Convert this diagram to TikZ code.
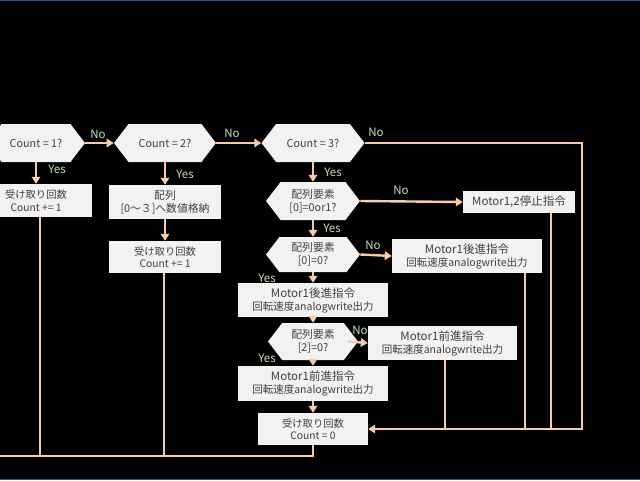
\documentclass[tikz,border=0pt]{standalone}
\usepackage{fontspec}
\setmainfont{Noto Sans CJK JP}
\usetikzlibrary{shapes.symbols,arrows.meta}

\definecolor{flowline}{RGB}{248,203,173}
\definecolor{boxfill}{RGB}{242,242,242}
\definecolor{boxtext}{RGB}{64,64,64}
\definecolor{lblgreen}{RGB}{197,224,180}
\definecolor{frameblue}{RGB}{47,85,151}

\newcommand{\mtitle}[1]{{\fontsize{11.5}{14}\selectfont #1}}

\tikzset{
  hexq/.style={shape=signal, signal to=west and east, signal pointer angle=105,
    fill=boxfill, text=boxtext, inner sep=0pt, align=center,
    font=\fontsize{10.8}{13}\selectfont},
  procbox/.style={rectangle, fill=boxfill, text=boxtext, inner sep=0pt, align=center,
    font=\fontsize{10.3}{12.5}\selectfont},
  motorbox/.style={procbox, minimum width=150pt, minimum height=34pt,
    font=\fontsize{10.5}{13}\selectfont},
  flow/.style={draw=flowline, line width=2.4pt, -{Triangle[length=7pt,width=8.5pt]}},
  joinline/.style={draw=flowline, line width=2.4pt},
  lbl/.style={text=lblgreen, inner sep=0pt, font=\fontsize{11.5}{13}\selectfont},
}

\begin{document}
\begin{tikzpicture}[x=1pt, y=-1pt]
  \fill[black] (0,0) rectangle (640,480);
  \clip (0,0) rectangle (640,480);
  \draw[frameblue, line width=2pt] (0,0) -- (640,0);
  \draw[frameblue, line width=1.5pt] (0,479.5) -- (640,479.5);

  % count checks
  \node[hexq, minimum width=98pt, minimum height=38pt] (c1) at (36,143) {Count = 1?};
  \node[hexq, minimum width=102pt, minimum height=38pt] (c2) at (165,143) {Count = 2?};
  \node[hexq, minimum width=103pt, minimum height=38pt] (c3) at (313,143) {Count = 3?};

  % count 1 and 2
  \node[procbox, minimum width=112pt, minimum height=33pt] (b1) at (36,200.5) {受け取り回数\\Count += 1};
  \node[procbox, minimum width=112pt, minimum height=34pt, font=\fontsize{10.8}{13}\selectfont] (b2) at (165,202) {配列\\{}[0～３]へ数値格納};
  \node[procbox, minimum width=112pt, minimum height=32pt] (b3) at (165,257) {受け取り回数\\Count += 1};

  % count 3
  \node[hexq, minimum width=94pt, minimum height=38pt] (h4) at (313,201) {配列要素\\{}[0]=0or1?};
  \node[procbox, minimum width=112pt, minimum height=22pt, font=\fontsize{11.5}{13}\selectfont] (s1) at (519,202) {Motor1,2停止指令};
  \node[hexq, minimum width=94pt, minimum height=35pt] (h5) at (313,254.5) {配列要素\\{}[0]=0?};
  \node[motorbox] (m1) at (467,256) {\mtitle{Motor1後進指令}\\回転速度analogwrite出力};
  \node[motorbox] (m2) at (313,300) {\mtitle{Motor1後進指令}\\回転速度analogwrite出力};
  \node[hexq, minimum width=90pt, minimum height=37pt] (h6) at (313,341.5) {配列要素\\{}[2]=0?};
  \node[motorbox, minimum width=149pt] (m3) at (442.5,343) {\mtitle{Motor1前進指令}\\回転速度analogwrite出力};
  \node[motorbox, minimum height=35pt] (m4) at (313,383.5) {\mtitle{Motor1前進指令}\\回転速度analogwrite出力};
  \node[procbox, minimum width=110pt, minimum height=32pt] (b4) at (313,429) {受け取り回数\\Count = 0};

  \coordinate (rbus) at (582,429);
  \coordinate (lbus) at (-5,456);

  % connectors
  \draw[flow] (c1.east) -- (c2.west);
  \draw[flow] (c2.east) -- (c3.west);
  \draw[flow] (c3.east) -| (rbus) -- (b4.east);
  \draw[flow] (c1.south) -- (b1.north);
  \draw[flow] (c2.south) -- (b2.north);
  \draw[flow] (b2.south) -- (b3.north);
  \draw[flow] (c3.south) -- (h4.north);
  \draw[flow] (h4.east) -- (s1.west);
  \draw[flow] (h4.south) -- (h5.north);
  \draw[flow] (h5.east) -- (m1.west);
  \draw[flow] (h5.south) -- (m2.north);
  \draw[flow] (m2.south) -- (h6.north);
  \draw[flow] ([xshift=-10pt]h6.east) -- (m3.west);
  \draw[flow] (h6.south) -- (m4.north);
  \draw[flow] (m4.south) -- (b4.north);

  % return lines
  \draw[joinline] ([xshift=32pt]s1.south) -- ([xshift=32pt]s1.south |- rbus);
  \draw[joinline] ([xshift=58pt]m1.south) -- ([xshift=58pt]m1.south |- rbus);
  \draw[joinline] ([xshift=2.5pt]m3.south) -- ([xshift=2.5pt]m3.south |- rbus);
  \draw[joinline] ([xshift=4pt]b1.south) -- ([xshift=4pt]b1.south |- lbus);
  \draw[joinline] ([xshift=-1pt]b3.south) -- ([xshift=-1pt]b3.south |- lbus);
  \draw[joinline] (b4.south) |- (lbus);

  % branch labels
  \node[lbl] (n1) at (98,134) {No};
  \node[lbl] (n2) at (232,133) {No};
  \node[lbl] (n3) at (376,132) {No};
  \node[lbl] (y1) at (57,169) {Yes};
  \node[lbl] (y2) at (185,174) {Yes};
  \node[lbl] (y3) at (333,172) {Yes};
  \node[lbl] (n4) at (401,190) {No};
  \node[lbl] (y4) at (332,228) {Yes};
  \node[lbl] (n5) at (373,245) {No};
  \node[lbl] (y5) at (267,278) {Yes};
  \node[lbl] (n6) at (360,330) {No};
  \node[lbl] (y6) at (267,358) {Yes};
\end{tikzpicture}
\end{document}
